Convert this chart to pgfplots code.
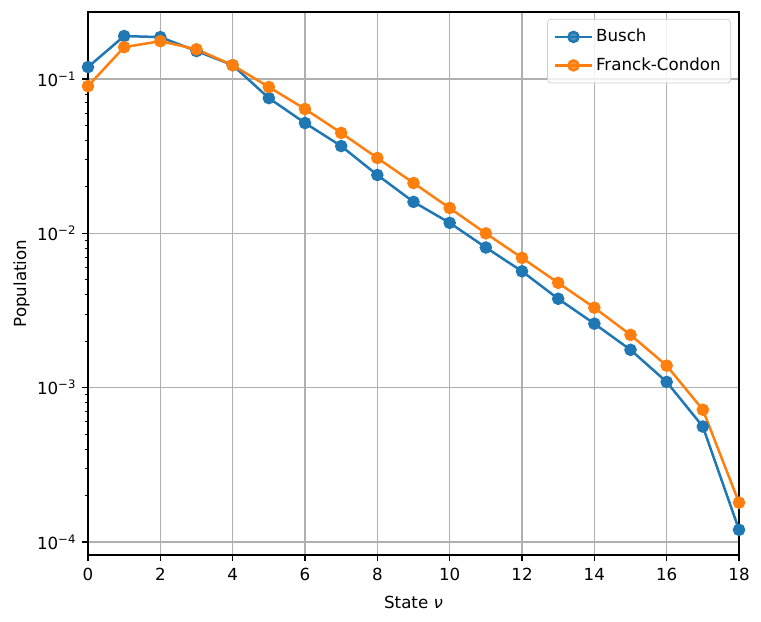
\documentclass[border=0pt]{standalone}
\usepackage{pgfplots}
\pgfplotsset{compat=1.18}
\usepackage{fontspec}
\setmainfont{DejaVu Sans}
\definecolor{tabblue}{HTML}{1F77B4}
\definecolor{taborange}{HTML}{FF7F0E}
\definecolor{gridgray}{HTML}{B0B0B0}
\begin{document}
\begin{tikzpicture}
\begin{axis}[
  name=ax,
  scale only axis,
  width=390.6pt, height=325.8pt,
  ymode=log,
  xmin=0, xmax=18,
  ymin=8.24e-5, ymax=0.272,
  xtick={0,2,...,18},
  ytick={1e-4,1e-3,1e-2,1e-1},
  yticklabels={10\textsuperscript{−4},10\textsuperscript{−3},10\textsuperscript{−2},10\textsuperscript{−1}},
  /pgf/number format/assume math mode=true,
  xticklabel={\pgfmathprintnumber[assume math mode=true]{\tick}},
  tick align=outside,
  xtick pos=left, ytick pos=left,
  major tick length=3.5pt, minor tick length=2pt,
  every tick/.style={black, line width=0.8pt},
  minor tick style={line width=0.6pt},
  axis line style={line width=0.8pt},
  grid=major,
  major grid style={gridgray, line width=0.8pt},
  minor grid style={draw=none},
  xticklabel style={yshift=-1pt},
  xlabel={State \textit{ν}},
  ylabel={Population},
  xlabel style={yshift=-2pt},
  ylabel style={yshift=-2.4pt},
  legend style={at={(1,1)}, anchor=north east, xshift=-4.8pt, yshift=-4.2pt,
    draw=gray!40, rounded corners=2pt, fill=white, fill opacity=0.8, text opacity=1,
    font=\normalsize, row sep=4pt, inner sep=4pt},
  legend cell align=left,
  legend image code/.code={
    \draw[mark repeat=2,mark phase=2] plot coordinates {(0cm,0cm) (0.38cm,0cm) (0.76cm,0cm)};
  },
]
\addplot[tabblue, line width=1.5pt, mark=*, mark size=3pt, mark options={solid, fill=tabblue, draw=tabblue}] coordinates {
(0,0.1196) (1,0.190) (2,0.187) (3,0.152) (4,0.123) (5,0.0753) (6,0.0519) (7,0.0368)
(8,0.0239) (9,0.0160) (10,0.0117) (11,0.0081) (12,0.00568) (13,0.00377) (14,0.00260)
(15,0.00176) (16,0.00109) (17,0.00056) (18,0.00012)
};
\addlegendentry{Busch}
\addplot[taborange, line width=1.5pt, mark=*, mark size=3pt, mark options={solid, fill=taborange, draw=taborange}] coordinates {
(0,0.090) (1,0.161) (2,0.176) (3,0.156) (4,0.123) (5,0.0888) (6,0.0640) (7,0.0448)
(8,0.0308) (9,0.0212) (10,0.0146) (11,0.0100) (12,0.00694) (13,0.00478) (14,0.00330)
(15,0.00220) (16,0.00139) (17,0.00072) (18,0.00018)
};
\addlegendentry{Franck-Condon}
\end{axis}
\pgfresetboundingbox
\path ([shift={(-52.8pt,-39.6pt)}]ax.south west) rectangle ([shift={(13.2pt,7.2pt)}]ax.north east);
\end{tikzpicture}
\end{document}
